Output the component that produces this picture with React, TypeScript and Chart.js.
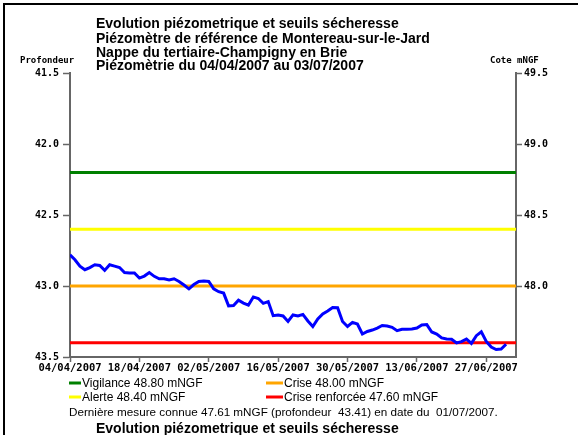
import React, { useEffect, useRef } from "react";
import { Chart, registerables } from "chart.js";

Chart.register(...registerables);

const titleLines = [
  "Evolution piézometrique et seuils sécheresse",
  "Piézomètre de référence de Montereau-sur-le-Jard",
  "Nappe du tertiaire-Champigny en Brie",
  "Piézomètrie du 04/04/2007 au 03/07/2007",
];
const leftAxisTitle = "Profondeur";
const rightAxisTitle = "Cote mNGF";

// days since 04/04/2007
const dayOffsets = Array.from({ length: 89 }, (_, i) => i);
const depthValues = [
  42.78, 42.815, 42.86, 42.885, 42.87, 42.85, 42.855, 42.89, 42.85, 42.86,
  42.87, 42.905, 42.908, 42.908, 42.944, 42.93, 42.905, 42.932, 42.949, 42.949,
  42.958, 42.949, 42.968, 42.993, 43.02, 42.99, 42.968, 42.965, 42.968, 43.02,
  43.04, 43.05, 43.14, 43.138, 43.1, 43.12, 43.134, 43.077, 43.088, 43.122,
  43.11, 43.209, 43.204, 43.211, 43.25, 43.204, 43.211, 43.2, 43.246, 43.285,
  43.232, 43.197, 43.176, 43.151, 43.153, 43.25, 43.285, 43.256, 43.268, 43.338,
  43.32, 43.31, 43.296, 43.278, 43.282, 43.291, 43.315, 43.305, 43.305, 43.303,
  43.296, 43.275, 43.272, 43.324, 43.338, 43.366, 43.373, 43.375, 43.401, 43.392,
  43.373, 43.404, 43.35, 43.322, 43.39, 43.43, 43.447, 43.444, 43.41,
];
const xMinDay = 0;
const xMaxDay = 90;
const xTickDays = [0, 14, 28, 42, 56, 70, 84];
const xTickLabels = [
  "04/04/2007", "18/04/2007", "02/05/2007", "16/05/2007",
  "30/05/2007", "13/06/2007", "27/06/2007",
];
const depthMin = 41.5;
const depthMax = 43.5;
const depthStep = 0.5;
const coteMin = 47.5;
const coteMax = 49.5;
const coteTicks = [48.0, 48.5, 49.0, 49.5];

const thresholdNames = ["Vigilance", "Alerte", "Crise", "Crise renforcée"];
const thresholdValues = [48.8, 48.4, 48.0, 47.6];
const thresholdColors = ["#008000", "#ffff00", "#ffa500", "#ff0000"];
const thresholdLabels = [
  "Vigilance 48.80 mNGF",
  "Alerte 48.40 mNGF",
  "Crise 48.00 mNGF",
  "Crise renforcée 47.60 mNGF",
];
const footerText =
  "Dernière mesure connue 47.61 mNGF (profondeur  43.41) en date du  01/07/2007.";

const MONO = "'DejaVu Sans Mono', monospace";
const SANS = "'Liberation Sans', Arial, sans-serif";

const decorPlugin = {
  id: "decor",
  beforeDraw(chart: any) {
    const ctx = chart.ctx;
    ctx.save();
    ctx.fillStyle = "#ffffff";
    ctx.fillRect(0, 0, chart.width, chart.height);
    ctx.restore();
  },
  afterDraw(chart: any) {
    const ctx = chart.ctx;
    ctx.save();
    // frame
    ctx.fillStyle = "#000";
    ctx.fillRect(3, 3, 2, chart.height - 3);
    ctx.fillRect(3, 3, chart.width - 3, 2);

    // titles
    ctx.fillStyle = "#000";
    ctx.textBaseline = "alphabetic";
    ctx.textAlign = "left";
    ctx.font = `bold 14px ${SANS}`;
    const baselines = [28, 42.5, 56.5, 69.5];
    titleLines.forEach((t, i) => ctx.fillText(t, 96, baselines[i]));

    // axis titles
    ctx.font = `bold 9px ${MONO}`;
    ctx.fillText(leftAxisTitle, 20, 63);
    ctx.fillText(rightAxisTitle, 490, 63);

    // legend
    const legendPos = [
      [69, 383],
      [69, 397],
      [266, 383],
      [266, 397],
    ];
    const markerLen = [12, 12, 17, 17];
    ctx.font = `12px ${SANS}`;
    thresholdLabels.forEach((lab, i) => {
      const [lx, ly] = legendPos[i];
      ctx.strokeStyle = thresholdColors[i];
      ctx.lineWidth = 3;
      ctx.beginPath();
      ctx.moveTo(lx, ly);
      ctx.lineTo(lx + markerLen[i], ly);
      ctx.stroke();
      ctx.fillStyle = "#000";
      ctx.textBaseline = "middle";
      ctx.fillText(lab, lx + markerLen[i] + 1, ly + 1);
    });

    ctx.font = `11.7px ${SANS}`;
    ctx.textBaseline = "middle";
    ctx.fillText(footerText, 69, 413);

    ctx.textBaseline = "alphabetic";
    ctx.font = `bold 14px ${SANS}`;
    ctx.fillText(titleLines[0], 96, 433);
    ctx.restore();
  },
};

export default function App() {
  const ref = useRef<HTMLCanvasElement | null>(null);
  useEffect(() => {
    if (!ref.current) return;
    const blue = dayOffsets.map((d, i) => ({ x: d, y: depthValues[i] }));
    const thresholdSets = thresholdValues.map((v, i) => ({
      label: thresholdNames[i],
      data: [
        { x: xMinDay, y: v },
        { x: xMaxDay, y: v },
      ],
      yAxisID: "y2",
      borderColor: thresholdColors[i],
      borderWidth: 3,
      pointRadius: 0,
    }));
    const tickFont = { family: MONO, size: 10, weight: "bold" as const };
    const xTickFont = { family: MONO, size: 10.5, weight: "bold" as const };
    const chart = new Chart(ref.current, {
      type: "line",
      data: {
        datasets: [
          {
            label: "Profondeur",
            data: blue,
            yAxisID: "y",
            borderColor: "#0000ff",
            borderWidth: 3,
            pointRadius: 0,
            tension: 0,
          },
          ...thresholdSets,
        ] as any,
      },
      plugins: [decorPlugin],
      options: {
        animation: false,
        responsive: false,
        devicePixelRatio: 1,
        layout: { padding: { top: 73, left: 0, right: 0, bottom: 0 } },
        plugins: { legend: { display: false }, tooltip: { enabled: false } },
        scales: {
          x: {
            type: "linear",
            min: xMinDay,
            max: xMaxDay,
            afterBuildTicks: (s: any) => {
              s.ticks = xTickDays.map((v) => ({ value: v }));
            },
            afterFit: (s: any) => {
              s.height = 78;
            },
            ticks: {
              autoSkip: false,
              maxRotation: 0,
              padding: 0,
              color: "#000",
              font: xTickFont,
              callback: (v: any) => {
                const i = xTickDays.indexOf(Number(v));
                return i >= 0 ? xTickLabels[i] : "";
              },
            },
            grid: {
              drawOnChartArea: false,
              tickLength: 5,
              tickColor: "#666",
              tickWidth: 1.5,
            },
            border: { display: true, color: "#666", width: 2 },
          },
          y: {
            type: "linear",
            position: "left",
            reverse: true,
            min: depthMin,
            max: depthMax,
            afterFit: (s: any) => {
              s.width = 70;
            },
            ticks: {
              stepSize: depthStep,
              padding: 4,
              color: "#000",
              font: tickFont,
              callback: (v: any) => Number(v).toFixed(1),
            },
            grid: {
              drawOnChartArea: false,
              tickLength: 7,
              tickColor: "#666",
              tickWidth: 1.5,
            },
            border: { display: true, color: "#666", width: 2 },
          },
          y2: {
            type: "linear",
            position: "right",
            min: coteMin,
            max: coteMax,
            afterBuildTicks: (s: any) => {
              s.ticks = coteTicks.map((v) => ({ value: v }));
            },
            afterFit: (s: any) => {
              s.width = 62;
            },
            ticks: {
              padding: 2,
              color: "#000",
              font: tickFont,
              callback: (v: any) => Number(v).toFixed(1),
            },
            grid: {
              drawOnChartArea: false,
              tickLength: 6,
              tickColor: "#666",
              tickWidth: 1.5,
            },
            border: { display: true, color: "#666", width: 2 },
          },
        },
      } as any,
    });
    return () => chart.destroy();
  }, []);
  return (
    <div style={{ position: "fixed", left: 0, top: 0, width: 578, height: 435 }}>
      <canvas ref={ref} width={578} height={435} style={{ width: 578, height: 435 }} />
    </div>
  );
}
